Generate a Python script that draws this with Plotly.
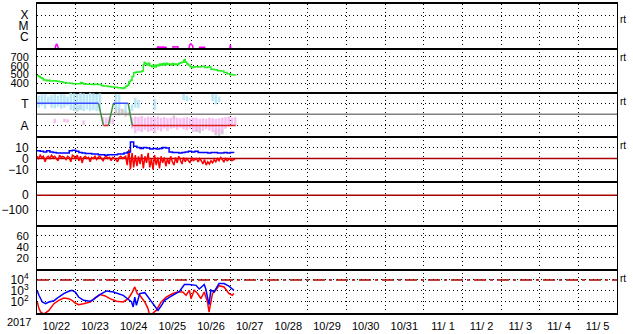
import pandas as pd
import plotly.graph_objects as go
from plotly.subplots import make_subplots

BASE = pd.Timestamp("2017-10-22 00:00")
X_START = "2017-10-22 00:00"
X_END = "2017-11-06 00:00"

# ---------------- data (hours after 2017-10-22 00:00) ----------------
# GOES X-ray flux (W/m2)
XR_H = [0, 11, 11.7, 12.2, 12.9, 13.5, 74, 75, 76.5, 78, 80, 81, 84, 84.5, 86, 87.4, 88,
        94, 94.8, 95.5, 96.6, 97.2, 100.5, 101, 102.5, 104, 104.5, 119.5, 120, 120.5, 123]
XR_FLUX = [6e-8, 6e-8, 1.8e-7, 2.4e-7, 1.5e-7, 6e-8, 6e-8, 1.3e-7, 1.2e-7, 1.3e-7, 1.2e-7, 6e-8, 6e-8,
           1.4e-7, 1.3e-7, 1.4e-7, 6e-8, 6e-8, 2.0e-7, 2.5e-7, 1.6e-7, 6e-8, 6e-8, 1.2e-7, 1.2e-7,
           1.2e-7, 6e-8, 6e-8, 2.0e-7, 6e-8, 6e-8]

# Solar wind speed (km/s)
SW_H = [0, 1, 2, 3, 4, 5, 6, 7, 8, 10, 12, 14, 16, 18, 20, 22, 24, 26, 27, 28, 29, 30, 32, 34, 36, 38,
        40, 41, 42, 44, 46, 48, 50, 52, 53, 54, 55, 56, 57, 58, 59, 60, 61, 62, 64, 65, 66, 66.5, 67,
        68, 69, 70, 71, 72, 73, 74, 75, 76, 77, 78, 79, 80, 81, 82, 83, 84, 85, 86, 87, 88, 89, 90,
        91, 91.5, 92, 93, 94, 95, 96, 97, 98, 100, 102, 104, 106, 108, 110, 112, 114, 116, 118, 120,
        122, 123.3]
SW_V = [490, 480, 465, 455, 440, 438, 432, 435, 428, 430, 425, 418, 412, 405, 402, 398, 396, 398, 410,
        402, 395, 390, 392, 388, 390, 389, 378, 370, 372, 366, 360, 356, 352, 348, 344, 352, 368, 380,
        420, 435, 480, 520, 528, 530, 532, 540, 610, 640, 625, 610, 630, 600, 590, 605, 585, 610, 600,
        620, 605, 625, 610, 630, 615, 620, 610, 625, 615, 620, 612, 628, 635, 640, 660, 672, 640, 620,
        605, 590, 580, 585, 590, 585, 595, 580, 585, 560, 555, 545, 540, 525, 510, 500, 495, 492]

# IMF sector: 2-hour bins, vertical extent of the angle clouds (T = 1, A = -1)
N_BINS = 62
TOWARD_HI = [1.7, 1.8, 1.85, 1.6, 1.75, 1.85, 1.7, 1.85, 1.8, 1.6, 1.95, 1.9, 1.85, 1.95, 1.9, 1.8,
             1.95, 1.9, 1.85, 1.9, None, None, None, None, 1.85, 1.8, None, 1.0, None, 0.9, 1.5, 1.3,
             None, None, None, None, 1.4, None, None, None, None, None, None, None, None, 1.85, 1.7,
             1.5, None, None, None, None, None, None, 1.85, 1.8, 1.6, None, None, None, None, None]
TOWARD_LO = [0.6, 0.8, 0.5, 0.9, 0.6, 0.55, 0.7, 0.5, 0.6, 0.8, 0.4, 0.3, 0.35, 0.4, 0.3, 0.45,
             0.3, 0.4, 0.3, 0.35, None, None, None, None, 0.4, 0.5, None, 0.25, None, 0.3, 0.6, 0.55,
             None, None, None, None, 0.4, None, None, None, None, None, None, None, None, 1.3, 1.2,
             1.3, None, None, None, None, None, None, 1.2, 0.9, 1.1, None, None, None, None, None]
AWAY_HI = [None, None, None, None, None, -0.4, None, None, -0.4, -0.45, None, None, None, None, -0.55,
           None, None, None, None, None, -0.25, -0.3, -0.2, -0.35, None, None, None, None, None, -0.3,
           -0.2, -0.25, -0.15, -0.3, -0.2, -0.25, -0.3, -0.2, -0.3, -0.25, -0.35, -0.3, -0.25, -0.3,
           -0.35, -0.3, -0.25, -0.35, -0.3, -0.3, -0.4, -0.35, -0.4, -0.3, -0.35, -0.4, -0.35, -0.3,
           -0.25, -0.2, -0.3, -0.25]
AWAY_LO = [None, None, None, None, None, -0.8, None, None, -0.7, -0.75, None, None, None, None, -0.95,
           None, None, None, None, None, -0.9, -0.95, -0.8, -0.9, None, None, None, None, None, -1.3,
           -1.7, -1.5, -1.6, -1.4, -1.6, -1.5, -1.7, -1.4, -1.55, -1.3, -1.5, -1.3, -1.25, -1.4, -1.2,
           -1.35, -1.45, -1.3, -1.6, -1.5, -1.4, -1.5, -1.35, -1.45, -1.6, -1.8, -1.75, -1.6, -1.3,
           -1.1, -1.0, -1.05]
MIXED_BINS = [11, 12, 13, 24, 25, 26, 27, 28, 42, 49, 50, 55, 56, 57]
MIXED_HI = [0.8, 0.7, 0.8, 0.8, 0.6, 0.5, 0.3, 0.2, -0.1, -1.1, -1.15, -1.3, -1.25, -1.4]
MIXED_LO = [0.3, 0.25, 0.4, 0.1, -0.1, 0.0, -0.2, -0.1, -0.5, -1.6, -1.7, -1.9, -2.0, -1.8]

# smoothed sector line
SECTOR_H = [0, 38.2, 41.2, 44.3, 47.4, 56.6, 59.1, 123.3]
SECTOR_V = [1, 1, -1, -1, 1, 1, -1, -1]
SECTOR_COLORS = ["#3a4cff", "#3f8f3f", "#e02020", "#3f8f3f", "#3a4cff", "#3f8f3f", "#e02020"]

# IMF Bt (2-hourly) and Bz (hourly), nT
BT_H = list(range(0, 124, 2))
BT_V = [7, 6.5, 6, 7, 6, 5.5, 5, 5, 5, 5, 7, 7.5, 6.5, 5.5, 5, 4.5, 4.5, 4, 4, 3.5, 3.5, 3, 3.5, 3.5,
        3.5, 4, 4, 5, 6, 15, 11, 10, 9, 10, 9.5, 8.5, 9, 8.5, 9, 10, 9.5, 6, 5.5, 5.5, 5, 5.5, 6, 6.5,
        6, 6.5, 5.5, 5.5, 5.5, 5, 5.5, 5.5, 5, 5, 5.5, 5, 5.5, 5]
BZ_H = list(range(0, 124))
BZ_V = [2, 0, 3, 1, 2, -3, 1, 2, 0, 3,
        1, 2, 0, -2, 3, 1, 2, 1, -1, 2, 1, -3, 3, 2, 0,
        3, -2, 2, -4, 1, 2, 0, 1, -3,
        1, 0, 2, -1, 1, 2, 0, -2, 1, 2, 0, 1, -2, 1, 0, -1, -3, 1, 2, 0, 1,
        2, -6, 8, -10, 5, -8, 3, -7, 2,
        -5, 4, -9, 2, -4, 5, -8, 0, -10, 3, -6, 1, -9, 2, -4, 1, -7, 0, -5, 2, -3,
        -6, 1, -4, 2, -2, -5, 1, -3, 0, -2, -4, 1, -2, -1, 0,
        -3, 0, -2, -5, -1, -6, -3, -5, -2, -4, -1, -3, 0,
        -2, 1, -1, -3, 0, -2, -1, 0, -2, -1, -1]

# Electron flux
EB_H = [0.2, 1.2, 3.3, 5.3, 7.4, 10.5, 13.5, 16.6, 19.7, 21.7, 23.8, 25.8, 28.9, 33, 35.1, 38.2, 41.2,
        43.3, 47.4, 50.5, 53.5, 56.6, 58.7, 59.7, 60.7, 61.7, 63.8, 66.9, 68.9, 71, 73, 75.1, 77.1,
        79.2, 82.3, 84.3, 88.4, 91.5, 94.6, 98.7, 100.7, 103.8, 104.8, 105.8, 106.8, 107.9, 109.9,
        113, 116.1, 119.1, 122.2]
EB_V = [1000, 400, 100, 70, 100, 130, 280, 580, 930, 1150, 800, 280, 140, 115, 170, 400, 700, 1000,
        800, 550, 400, 175, 100, 35, 280, 50, 580, 700, 280, 100, 35, 17, 45, 140, 280, 400, 900,
        3800, 3800, 3200, 1500, 3800, 1500, 280, 57, 1200, 800, 4700, 4700, 2700, 1150]
ER_H = [0.2, 1.2, 2.3, 4.3, 7.4, 10.5, 13.5, 16.6, 19.7, 21.7, 23.8, 25.8, 28.9, 33, 36.1, 39.2, 42.3,
        45.3, 49.4, 53.5, 56.6, 58.7, 60.7, 62.2, 63.8, 66.9, 68.9, 69.9, 72, 74, 77.1, 80.2, 84.3,
        87.4, 90.5, 92.5, 94.6, 95.6, 97.6, 99.7, 101.7, 103.8, 105.8, 106.8, 108.9, 110.9, 113,
        116.1, 119.1, 121.2, 122.2]
ER_V = [100, 25, 12, 8, 17, 70, 140, 230, 200, 140, 80, 57, 70, 100, 230, 470, 350, 200, 115, 100,
        200, 580, 2300, 580, 400, 100, 25, 6, 10, 17, 100, 280, 580, 800, 800, 400, 1150, 200, 1150,
        580, 200, 800, 100, 12, 580, 1150, 3000, 2300, 580, 400, 580]

ZERO_LEVEL = 0
ELECTRON_ALERT = 1e4


def t(hours):
    return [BASE + pd.Timedelta(hours=h) for h in hours]


fig = make_subplots(rows=7, cols=1, shared_xaxes=True, vertical_spacing=0)

# row 1: X-ray
fig.add_trace(go.Scatter(x=t(XR_H), y=XR_FLUX, mode="lines",
                         line=dict(color="#ff00ff", width=1.5)), row=1, col=1)

# row 2: solar wind
fig.add_trace(go.Scatter(x=t(SW_H), y=SW_V, mode="lines", line_shape="hv",
                         line=dict(color="#22ee22", width=1.5)), row=2, col=1)

# row 3: sector


def add_bins(hi, lo, bins, color, opacity):
    xs, ys, bs = [], [], []
    for k, a, b in zip(bins, hi, lo):
        if a is None or b is None:
            continue
        xs.append(BASE + pd.Timedelta(hours=2 * k + 1))
        ys.append(a - b)
        bs.append(b)
    fig.add_trace(go.Bar(x=xs, y=ys, base=bs, width=1.6 * 3600000,
                         marker=dict(color=color, line=dict(width=0)),
                         opacity=opacity), row=3, col=1)


add_bins(MIXED_HI, MIXED_LO, MIXED_BINS, "#c8c8c8", 0.9)
add_bins(TOWARD_HI, TOWARD_LO, list(range(N_BINS)), "#aee4f8", 0.85)
add_bins(AWAY_HI, AWAY_LO, list(range(N_BINS)), "#f6b6f0", 0.85)

fig.add_trace(go.Scatter(x=[X_START, X_END], y=[ZERO_LEVEL, ZERO_LEVEL], mode="lines",
                         line=dict(color="#808080", width=1.5)), row=3, col=1)
for i in range(len(SECTOR_H) - 1):
    fig.add_trace(go.Scatter(x=t(SECTOR_H[i:i + 2]), y=SECTOR_V[i:i + 2], mode="lines",
                             line=dict(color=SECTOR_COLORS[i], width=1.5)), row=3, col=1)

# row 4: IMF
for r in (4, 5):
    fig.add_trace(go.Scatter(x=[X_START, X_END], y=[ZERO_LEVEL, ZERO_LEVEL], mode="lines",
                             line=dict(color="#aa0000", width=1.5)), row=r, col=1)
fig.add_trace(go.Scatter(x=t(BZ_H), y=BZ_V, mode="lines",
                         line=dict(color="#ff0000", width=1.5)), row=4, col=1)
fig.add_trace(go.Scatter(x=t(BT_H), y=BT_V, mode="lines", line_shape="hv",
                         line=dict(color="#0000ff", width=1.5)), row=4, col=1)

# row 6: no data in this period (placeholder keeps the panel drawn)
fig.add_trace(go.Scatter(x=[X_START, X_END], y=[None, None], mode="lines",
                         hoverinfo="skip"), row=6, col=1)

# row 7: electrons
fig.add_trace(go.Scatter(x=[X_START, X_END], y=[ELECTRON_ALERT, ELECTRON_ALERT], mode="lines",
                         line=dict(color="#aa0000", width=1.5, dash="12px,4px,3px,4px")),
              row=7, col=1)
fig.add_trace(go.Scatter(x=t(ER_H), y=ER_V, mode="lines",
                         line=dict(color="#ff0000", width=1.5)), row=7, col=1)
fig.add_trace(go.Scatter(x=t(EB_H), y=EB_V, mode="lines",
                         line=dict(color="#0000ff", width=1.5)), row=7, col=1)

GRID = dict(showgrid=True, gridcolor="black", gridwidth=1, griddash="1px,3px",
            zeroline=False, ticks="", ticklabelstandoff=5,
            tickfont=dict(size=12, color="black"))

fig.update_xaxes(type="date", range=[X_START, X_END], dtick=86400000, tick0=X_START,
                 showline=True, linecolor="black", linewidth=2, mirror=False, **GRID)
fig.update_xaxes(row=1, col=1, mirror=True)
fig.update_xaxes(row=7, col=1, showticklabels=True, ticklabelmode="period",
                 tickformat="%m/%e", tickfont=dict(size=11, color="black"), ticklabelstandoff=2)

YL = dict(showline=True, linecolor="black", linewidth=1, mirror=True)
fig.update_yaxes(row=1, col=1, type="log", range=[-7, -3], tickvals=[1e-6, 1e-5, 1e-4],
                 ticktext=["C", "M", "X"], **GRID, **YL)
fig.update_yaxes(row=2, col=1, range=[300, 800], tickvals=[400, 500, 600, 700], **GRID, **YL)
fig.update_yaxes(row=2, col=1, tickfont=dict(size=11, color="black"))
fig.update_yaxes(row=3, col=1, range=[-2, 2], tickvals=[1, -1], ticktext=["T", "A"], **GRID, **YL)
fig.update_yaxes(row=4, col=1, range=[-20, 20], tickvals=[10, 0, -10], **GRID, **YL)
fig.update_yaxes(row=5, col=1, range=[-200, 100], tickvals=[0, -100], **GRID, **YL)
fig.update_yaxes(row=6, col=1, range=[0, 80], tickvals=[20, 40, 60], **GRID, **YL)
fig.update_yaxes(row=6, col=1, tickfont=dict(size=11, color="black"))
fig.update_yaxes(row=7, col=1, type="log", range=[1, 5], tickvals=[1e2, 1e3, 1e4],
                 ticktext=["10<sup>2</sup>", "10<sup>3</sup>", "10<sup>4</sup>"], **GRID, **YL)

annotations = []
for yref, shift in (("y domain", -8), ("y2 domain", -2), ("y3 domain", -2),
                    ("y4 domain", -2), ("y7 domain", -2)):
    annotations.append(dict(text="rt", xref="paper", x=1, xanchor="left", xshift=1,
                            yref=yref, y=1, yanchor="top", yshift=shift, showarrow=False,
                            font=dict(size=10, color="black")))
annotations.append(dict(text="2017", xref="paper", x=0, xanchor="right", xshift=-4,
                        yref="paper", y=0, yanchor="top", yshift=-1, showarrow=False,
                        font=dict(size=11, color="black")))

fig.update_layout(width=633, height=334, margin=dict(l=33, r=16, t=2, b=17),
                  paper_bgcolor="white", plot_bgcolor="white", showlegend=False,
                  barmode="overlay", font=dict(family="Liberation Sans", size=12, color="black"),
                  annotations=annotations)

fig.write_html("out.html")
